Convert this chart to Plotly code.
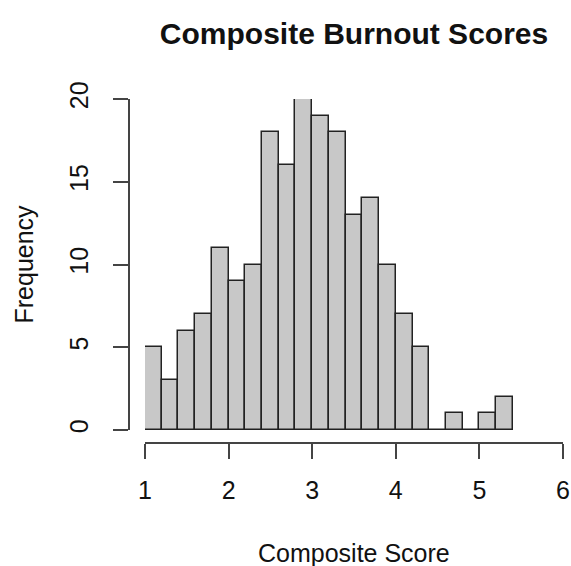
import plotly.graph_objects as go

bin_start = 1.0
bin_width = 0.2
counts = [5, 3, 6, 7, 11, 9, 10, 18, 16, 20, 19, 18, 13, 14, 10, 7, 5, 0, 1, 0, 1, 2]
x_ticks = [1, 2, 3, 4, 5, 6]
y_ticks = [0, 5, 10, 15, 20]

centers = [bin_start + bin_width * (i + 0.5) for i in range(len(counts))]
edge_lo = bin_start
edge_hi = bin_start + bin_width * len(counts)

W, H = 571, 566
ml, mr, mt, mb = 129, 3, 50, 566 - 443
pw = W - ml - mr
ph = H - mt - mb
px_x1, px_x6 = 145, 563
px_y0, px_y20 = 430, 99
xd = [(px_x1 - ml) / pw, (px_x6 - ml) / pw]
yd = [(H - mb - px_y0) / ph, (H - mb - px_y20) / ph]

def fx(px):
    return (px - ml) / pw

def fy(py):
    return (H - mb - py) / ph

FONT = "Liberation Sans, Arial, Helvetica, sans-serif"
FS = 25

fig = go.Figure()
fig.add_trace(go.Scatter(
    x=[edge_lo, edge_hi], y=[0, 0], mode="lines",
    line=dict(color="#222222", width=1.5), hoverinfo="skip", showlegend=False))
fig.add_trace(go.Bar(
    x=centers, y=counts, width=bin_width,
    marker=dict(color="#c8c8c8", line=dict(color="#222222", width=1.5)),
    hoverinfo="skip", showlegend=False))

axis_common = dict(
    showline=True, linecolor="#444444", linewidth=1.5,
    ticks="outside", ticklen=15, tickwidth=1.5, tickcolor="#444444",
    showgrid=False, zeroline=False, automargin=False,
    tickfont=dict(family=FONT, size=FS, color="#111111"),
)

fig.update_layout(
    width=W, height=H,
    margin=dict(l=ml, r=mr, t=mt, b=mb, autoexpand=False),
    paper_bgcolor="white", plot_bgcolor="white",
    font=dict(family=FONT, color="#111111", size=FS),
    title=dict(text="<b>Composite Burnout Scores</b>",
               x=354 / W, xanchor="center",
               y=1 - 33 / H, yanchor="middle",
               font=dict(size=30, family=FONT, color="#111111")),
    bargap=0,
    xaxis=dict(domain=xd, range=[1, 6], anchor="free", position=0,
               tickvals=x_ticks, ticktext=[str(v) for v in x_ticks],
               ticklabelstandoff=10, **axis_common),
    yaxis=dict(domain=yd, range=[0, 20], anchor="free", position=0,
               tickvals=y_ticks, ticktext=[str(v) for v in y_ticks],
               tickangle=-90, ticklabelstandoff=15, **axis_common),
    annotations=[
        dict(text="Composite Score", xref="paper", yref="paper",
             x=fx(354), y=fy(553),
             xanchor="center", yanchor="middle", showarrow=False,
             font=dict(size=FS, family=FONT, color="#111111")),
        dict(text="Frequency", xref="paper", yref="paper",
             x=fx(23), y=fy((px_y0 + px_y20) / 2),
             xanchor="center", yanchor="middle", textangle=-90, showarrow=False,
             font=dict(size=FS, family=FONT, color="#111111")),
    ],
)

fig.write_html("out.html", config={"displayModeBar": False},
               post_script="document.body.style.margin='0';")
